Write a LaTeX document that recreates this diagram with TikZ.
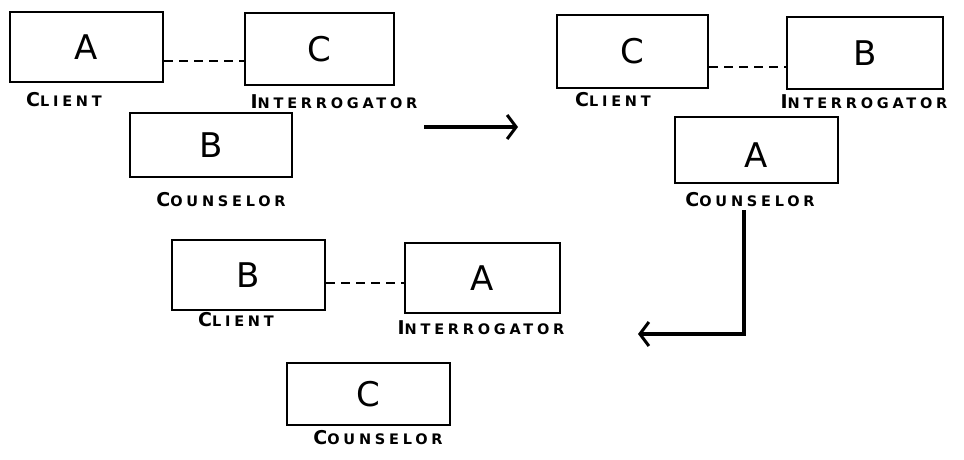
\documentclass[tikz,border=0pt]{standalone}
\usepackage{fontspec}
\usetikzlibrary{arrows.meta}
\newfontfamily\letterfont{DejaVu Sans}
\newfontfamily\rolefont[LetterSpace=26]{DejaVu Sans Bold}
% role name: larger first capital, then smaller capitals
\newcommand\rolename[2]{{\fontsize{19}{19}\selectfont #1}{\fontsize{14.5}{14.5}\selectfont #2}}
\tikzset{
  role box/.style={draw, line width=2.6pt, minimum width=#1, inner sep=0pt},
  big letter/.style={font=\letterfont\fontsize{34}{34}\selectfont},
  role/.style={font=\rolefont, inner sep=0pt},
  link/.style={line width=2.2pt, dash pattern=on 9pt off 6pt},
  move/.style={line width=3.2pt, -{Straight Barb[length=9pt,width=24pt,line width=3pt]}}
}
\begin{document}
\begin{tikzpicture}[x=1pt,y=-1pt]
\useasboundingbox (0,0) rectangle (964,459);

% first round
\node[role box=153pt, minimum height=70pt, big letter] (a1) at (86.5,47) {A};
\node[role box=149pt, minimum height=72pt, big letter] (c1) at (319.5,49) {C};
\node[role box=162pt, minimum height=64pt, big letter] (b1) at (211,145) {B};
\draw[link] (a1.east |- 0,61) -- (c1.west |- 0,61);
\node[role] (a1r) at (64,100) {\rolename{C}{LIENT}};
\node[role] (c1r) at (334,102) {\rolename{I}{NTERROGATOR}};
\node[role] (b1r) at (221,200) {\rolename{C}{OUNSELOR}};

% second round
\node[role box=151pt, minimum height=73pt, big letter] (c2) at (632.5,51.5) {C};
\node[role box=156pt, minimum height=72pt, big letter] (b2) at (865,53) {B};
\node[role box=163pt, minimum height=66pt, big letter, text depth=0pt] (a2) at (756.5,150) {\raisebox{-10pt}{A}};
\draw[link] (c2.east |- 0,67) -- (b2.west |- 0,67);
\node[role] (c2r) at (613,100) {\rolename{C}{LIENT}};
\node[role] (b2r) at (864,102) {\rolename{I}{NTERROGATOR}};
\node[role] (a2r) at (750,200) {\rolename{C}{OUNSELOR}};

% third round
\node[role box=153pt, minimum height=70pt, big letter] (b3) at (248.5,275) {B};
\node[role box=155pt, minimum height=70pt, big letter] (a3) at (482.5,278) {A};
\node[role box=163pt, minimum height=62pt, big letter] (c3) at (368.5,394) {C};
\draw[link] (b3.east |- 0,283) -- (a3.west |- 0,283);
\node[role] (b3r) at (236,320) {\rolename{C}{LIENT}};
\node[role] (a3r) at (481,328) {\rolename{I}{NTERROGATOR}};
\node[role] (c3r) at (378,438) {\rolename{C}{OUNSELOR}};

% rotation arrows
\coordinate (r1s) at (424,127);
\coordinate (r1e) at (518,127);
\draw[move] (r1s) -- (r1e);
\coordinate (r2s) at (744,210);
\coordinate (r2k) at (744,334);
\coordinate (r2e) at (638,334);
\draw[move] (r2s) -- (r2k) -- (r2e);
\end{tikzpicture}
\end{document}
